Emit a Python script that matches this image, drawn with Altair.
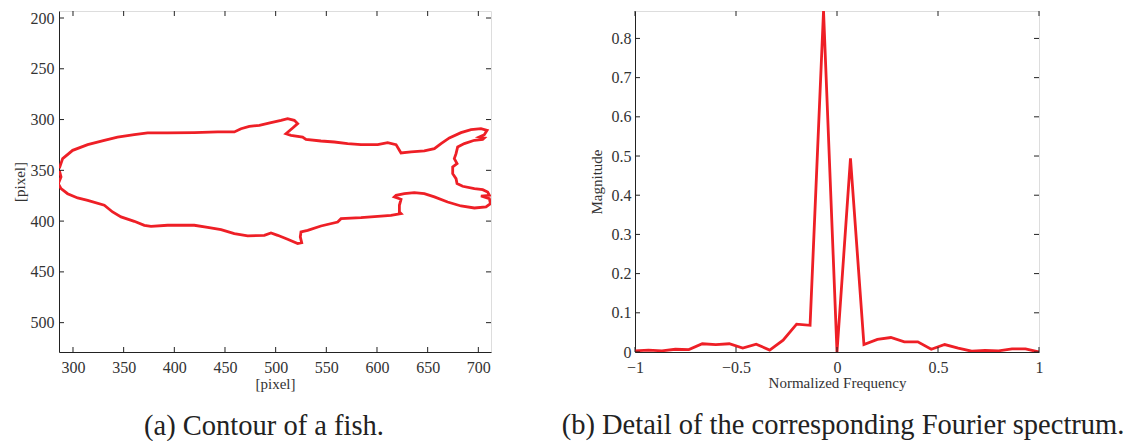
import altair as alt
import pandas as pd

# ---------------- data ----------------
fish_x = [286.5, 289.8, 299.7, 314.5, 330.9, 344.0, 360.5, 373.7, 393.4, 419.7,
          442.8, 459.2, 465.8, 474.0, 483.9, 495.4, 505.3, 511.8, 518.4, 521.7,
          516.8, 510.2, 515.1, 526.6, 529.9, 544.7, 557.9, 571.0, 584.2, 600.7,
          610.5, 618.8, 622.1, 623.7, 633.6, 646.7, 656.6, 663.2, 671.4, 682.9,
          692.8, 702.6, 708.6, 705.9, 701.0, 705.9, 704.3, 696.1, 686.2, 679.6,
          678.0, 676.3, 679.0, 674.7, 674.7, 678.0, 679.0, 684.5, 696.1, 704.3,
          709.2, 711.0, 702.6, 710.9, 712.0, 707.6, 696.1, 682.9, 669.7, 656.6,
          646.7, 636.8, 627.0, 618.8, 617.1, 623.7, 622.1, 622.1, 623.7, 613.8,
          600.7, 584.2, 564.5, 561.2, 544.7, 531.6, 525.0, 524.3, 525.7, 521.7,
          511.8, 502.0, 495.4, 488.8, 472.4, 459.2, 446.1, 432.9, 419.7, 393.4,
          377.0, 370.4, 360.5, 347.4, 339.1, 330.9, 314.5, 304.6, 294.7, 288.2,
          285.5, 288.2, 286.5]
fish_y = [348.0, 338.5, 330.3, 324.7, 320.4, 317.2, 314.9, 313.2, 313.2, 312.9,
          312.2, 312.2, 309.0, 306.7, 305.7, 303.0, 300.8, 299.1, 300.8, 304.0,
          308.3, 313.9, 315.5, 317.2, 319.5, 321.1, 322.1, 323.7, 324.7, 324.7,
          322.7, 324.7, 330.3, 332.9, 331.9, 330.9, 328.6, 323.7, 318.1, 312.9,
          309.9, 309.0, 310.6, 314.9, 317.2, 318.1, 319.5, 320.4, 323.7, 327.0,
          333.6, 338.5, 343.4, 346.7, 353.3, 358.2, 363.1, 365.7, 368.0, 369.0,
          371.3, 374.6, 375.3, 377.9, 382.8, 386.1, 387.1, 385.1, 381.2, 376.2,
          373.0, 372.0, 373.0, 374.6, 376.2, 378.5, 384.4, 391.0, 392.6, 394.3,
          395.3, 396.6, 397.6, 400.9, 404.8, 409.1, 410.7, 415.6, 421.2, 422.2,
          417.9, 414.0, 411.7, 414.0, 414.6, 412.3, 408.4, 406.1, 404.1, 404.1,
          405.1, 404.1, 400.2, 395.9, 391.0, 384.4, 379.5, 377.2, 373.0, 368.0,
          363.1, 356.5, 349.9]

freq = [-1.0, -0.9333, -0.8667, -0.8, -0.7333, -0.6667, -0.6, -0.5333, -0.4667,
        -0.4, -0.3333, -0.2667, -0.2, -0.1333, -0.0667, 0.0, 0.0667, 0.1333, 0.2,
        0.2667, 0.3333, 0.4, 0.4667, 0.5333, 0.6, 0.6667, 0.7333, 0.8, 0.8667,
        0.9333, 1.0]
magnitude = [0.003, 0.005, 0.003, 0.007, 0.006, 0.021, 0.019, 0.021, 0.010,
             0.020, 0.005, 0.030, 0.071, 0.068, 0.870, 0.0, 0.494, 0.019, 0.032,
             0.037, 0.026, 0.026, 0.007, 0.019, 0.010, 0.002, 0.004, 0.003, 0.008,
             0.008, 0.0]

fish_xticks = [300, 350, 400, 450, 500, 550, 600, 650, 700]
fish_yticks = [200, 250, 300, 350, 400, 450, 500]
spec_xticks = [-1, -0.5, 0, 0.5, 1]
spec_yticks = [0, 0.1, 0.2, 0.3, 0.4, 0.5, 0.6, 0.7, 0.8]

caption_a = "(a)  Contour of a fish."
caption_b = "(b)  Detail of the corresponding Fourier spectrum."

# ---------------- styling ----------------
RED = "#ee1f26"
FONT = "Liberation Serif"
TXT = "#333333"
FRAME = "#222222"
TL = 5  # inner tick length

fish_df = pd.DataFrame({"x": fish_x, "y": fish_y, "i": list(range(len(fish_x)))})
spec_df = pd.DataFrame({"f": freq, "m": magnitude})

def ax(values, title, fmt=None, lp=6, tp=2):
    kw = dict(values=values, title=title, ticks=False, domain=True,
              domainColor=FRAME, domainWidth=1, grid=False,
              labelFont=FONT, labelFontSize=16, labelColor=TXT,
              titleFont=FONT, titleFontSize=15, titleFontWeight="normal",
              titleColor=TXT, labelPadding=lp, titlePadding=tp, labelFlush=False)
    if fmt:
        kw["format"] = fmt
    return alt.Axis(**kw)

def tick_layers(xvals, yvals, xenc, yenc, W, H):
    xt = pd.DataFrame({"v": xvals})
    yt = pd.DataFrame({"v": yvals})
    base_x = alt.Chart(xt).mark_rule(color=FRAME, strokeWidth=1)
    base_y = alt.Chart(yt).mark_rule(color=FRAME, strokeWidth=1)
    return [
        base_x.encode(x=xenc, y=alt.value(H), y2=alt.value(H - TL)),
        base_x.encode(x=xenc, y=alt.value(0), y2=alt.value(TL)),
        base_y.encode(y=yenc, x=alt.value(0), x2=alt.value(TL)),
        base_y.encode(y=yenc, x=alt.value(W - TL), x2=alt.value(W)),
    ]

def caption(text, dx):
    return alt.TitleParams(text=text, orient="bottom", anchor="middle", frame="group",
                           dx=dx, offset=21, font=FONT, fontSize=28.5,
                           fontWeight="normal", color="#222222")

# ---------------- left: fish contour ----------------
W1, H1 = 432, 341
fx = alt.Scale(domain=[286.2, 712.5], nice=False, zero=False)
fy = alt.Scale(domain=[193.1, 528.9], nice=False, zero=False, reverse=True)
fxa = ax(fish_xticks, "[pixel]", lp=7, tp=1)
fya = ax(fish_yticks, "[pixel]", lp=5, tp=3)

fish_line = alt.Chart(fish_df).mark_line(color=RED, strokeWidth=2.8, clip=True).encode(
    x=alt.X("x:Q", scale=fx, axis=fxa),
    y=alt.Y("y:Q", scale=fy, axis=fya),
    order="i:Q",
)
left = alt.layer(
    fish_line,
    *tick_layers(fish_xticks, fish_yticks,
                 alt.X("v:Q", scale=fx, axis=fxa), alt.Y("v:Q", scale=fy, axis=fya), W1, H1)
).properties(width=W1, height=H1, title=caption(caption_a, -11))

# ---------------- right: spectrum ----------------
W2, H2 = 404, 341
sx = alt.Scale(domain=[-1, 1], nice=False, zero=False)
sy = alt.Scale(domain=[0, 0.87], nice=False, zero=False)
sxa = ax(spec_xticks, "Normalized Frequency", fmt="~g", lp=7, tp=0)
sya = ax(spec_yticks, "Magnitude", fmt=".1~f", lp=4, tp=7)

spec_line = alt.Chart(spec_df).mark_line(color=RED, strokeWidth=2.8, clip=True).encode(
    x=alt.X("f:Q", scale=sx, axis=sxa),
    y=alt.Y("m:Q", scale=sy, axis=sya),
)
right = alt.layer(
    spec_line,
    *tick_layers(spec_xticks, spec_yticks,
                 alt.X("v:Q", scale=sx, axis=sxa), alt.Y("v:Q", scale=sy, axis=sya), W2, H2)
).properties(width=W2, height=H2, title=caption(caption_b, 6))

chart = alt.hconcat(left, right, spacing=144, bounds="flush").properties(
    padding={"left": 3, "top": 1, "right": 0, "bottom": 0}
).configure_view(stroke=FRAME, strokeWidth=1).configure(background="white")

chart.save("out.html", embed_options={"renderer": "svg", "actions": False})
